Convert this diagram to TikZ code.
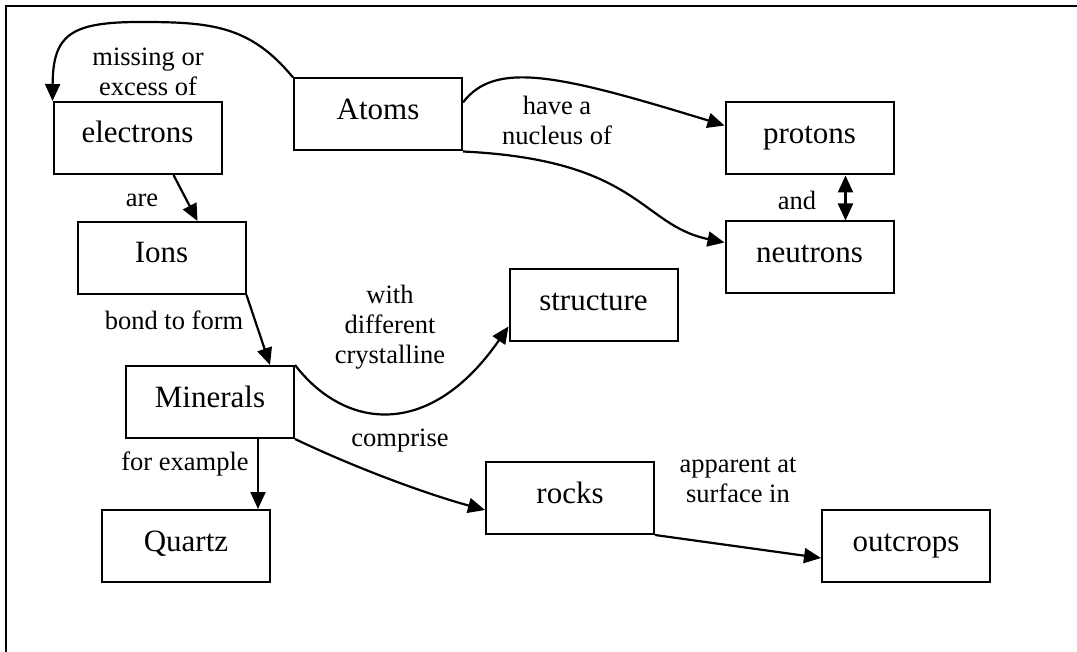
\documentclass[tikz,border=0pt]{standalone}
\usepackage{fontspec}
\setmainfont{Liberation Serif}
\usetikzlibrary{arrows.meta}
\begin{document}
\begin{tikzpicture}[x=1pt,y=-1pt,
  concept/.style={draw, line width=2pt, minimum width=168pt, minimum height=72pt,
    inner sep=0pt, text height=20pt, text depth=10pt, font=\fontsize{31}{36}\selectfont},
  lbl/.style={font=\fontsize{26.5}{30}\selectfont, align=center, inner sep=0pt},
  tip/.style={Triangle[length=17pt,width=15pt]},
  link/.style={line width=2.2pt, -{Triangle[length=17pt,width=15pt]}},
  frame/.style={line width=2.5pt}
]
\useasboundingbox (0,0) rectangle (1077,652);
\draw[frame] (1077,6) -- (6,6) -- (6,652);

\node[concept] (electrons) at (137.5,138) {electrons};
\node[concept] (atoms) at (378,114.5) {Atoms};
\node[concept] (protons) at (809.5,138.5) {protons};
\node[concept] (neutrons) at (809.5,257.5) {neutrons};
\node[concept] (structure) at (593.5,305.5) {structure};
\node[concept] (ions) at (161.5,258) {Ions};
\node[concept] (minerals) at (210,402) {Minerals};
\node[concept] (quartz) at (186,546) {Quartz};
\node[concept] (rocks) at (570,498) {rocks};
\node[concept] (outcrops) at (906,546) {outcrops};

\node[lbl] (l1) at (148,72) {missing or\\excess of};
\node[lbl] (l2) at (557,120) {have a\\nucleus of};
\node[lbl] (l3) at (797,200) {and};
\node[lbl] (l4) at (142,200) {are};
\node[lbl] (l5) at (174,320) {bond to form};
\node[lbl] (l6) at (390,327) {with\\different\\crystalline};
\node[lbl] (l7) at (400,441) {comprise};
\node[lbl] (l8) at (185,464) {for example};
\node[lbl] (l9) at (738,480) {apparent at\\surface in};

\draw[link] (atoms.north west) .. controls (250,25) and (210,22) .. (140,22)
  .. controls (70,22) and (53,35) .. (electrons.north west);
\draw[link] ([yshift=12pt]atoms.east) .. controls (495,60) and (560,75) .. ([yshift=13pt]protons.west);
\draw[link] (atoms.south east) .. controls (640,160) and (640,225) .. ([yshift=15pt]neutrons.west);
\draw[line width=2.2pt, {Triangle[length=17pt,width=15pt]}-{Triangle[length=17pt,width=15pt]}]
  ([xshift=36pt]protons.south) -- ([xshift=36pt]neutrons.north);
\draw[link] ([xshift=36pt]electrons.south) -- ([xshift=36pt]ions.north);
\draw[link] (ions.south east) -- ([xshift=60pt]minerals.north);
\draw[link] (minerals.north east) .. controls (345,430) and (430,440) .. ([yshift=-21pt]structure.west);
\draw[link] ([xshift=48pt]minerals.south) -- ([xshift=72pt]quartz.north);
\draw[link] (minerals.south east) .. controls (360,470) and (430,495) .. ([yshift=-12pt]rocks.west);
\draw[link] (rocks.south east) -- ([yshift=-12pt]outcrops.west);
\end{tikzpicture}
\end{document}
